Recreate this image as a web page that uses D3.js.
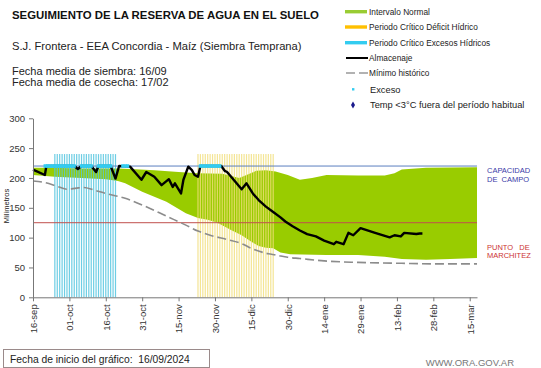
<!DOCTYPE html>
<html><head><meta charset="utf-8">
<script src="https://cdn.jsdelivr.net/npm/d3@7"></script>
<style>
html,body{margin:0;padding:0;background:#fff;}
svg{display:block;font-family:"Liberation Sans",Arial,sans-serif;}
</style></head>
<body><svg id="c" width="541" height="368"></svg>
<script>
// ---- data (day offset from 16-sep-2024) ----
const tickDays = [0,15,30,45,60,75,90,105,120,135,150,165,180];
const tickLabels = ["16-sep","01-oct","16-oct","31-oct","15-nov","30-nov","15-dic","30-dic","14-ene","29-ene","13-feb","28-feb","15-mar"];
const yTicks = [0,50,100,150,200,250,300];
const capacidadCampo = 220;
const puntoMarchitez = 125;
const normalUpper = [[0,217],[8,217],[20,216],[35,216],[40,215],[50,213],[60,210],[68,208],[78,207],[83,202],[85,200],[88,205],[92,212],[96,213],[100,211],[105,205],[110,197],[115,200],[121,205],[134,204],[145,204],[149,208],[152,214],[162,217],[183,218]];
const normalLower = [[0,205],[9,202],[20,200],[30,198],[35,195],[38,191],[45,177],[55,160],[63,141],[68,133],[72,130],[76,125],[82,112],[86,104],[90,93],[93,86],[96,83],[99,82],[102,75],[106,72],[121,71],[134,71],[145,68],[152,64],[162,63],[172,64],[183,66]];
const minimoHistorico = [[0,195],[4,193],[10,186],[14,181],[18,183],[21,184],[25,180],[30,174],[38,166],[46,153],[55,136],[63,121],[68,111],[73,104],[80,97],[86,90],[90,82],[97,73],[100,71],[105,67],[110,65],[120,61],[134,58.5],[152,57],[168,56],[183,56]];
const almacenaje = [[0,214],[4.9,205],[5.5,220],[17,220],[18.5,215],[20,220],[24,220],[26,210],[27,220],[32,220],[34,199],[35.5,220],[40,219],[44.7,197],[46.7,210],[50,202],[53,188],[56,198],[57.6,185],[58.5,191],[61,174],[62,197],[64,219],[65.5,213],[66.6,205],[68,202],[69,220],[77.6,220],[79,212],[80,210],[86,181],[88,191],[90.6,174],[93,163],[96,152],[99,143],[102,134],[104,127],[107,119],[110,112],[113,106],[116.6,102],[120,95],[124,89],[125,93],[128,89],[130,108],[132,104],[135,116],[141,108],[147,100.5],[149,104],[151.6,102],[153,108],[158,106],[159.4,107],[160.5,107]];
const excesoDays = [5,6,7,8,9,10,11,12,13,14,15,16,17,20,21,22,23,24,27,28,29,30,31,32,37,38,39,69,70,71,72,73,74,75,76,77];
const excesosHidricosDays = [9,10,11,12,13,14,15,16,17,18,19,20,21,22,23,24,25,26,27,28,29,30,31,32,33,34];
const deficitHidricoDays = [68,69,70,71,72,73,74,75,76,77,78,79,80,81,82,83,84,85,86,87,88,89,90,91,92,93,94,95,96,97,98,99];
const periodoTop = 240;
const legendItems = ["Intervalo Normal","Periodo Crítico Déficit Hídrico","Periodo Crítico Excesos Hídricos","Almacenaje","Mínimo histórico","Exceso","Temp <3°C fuera del período habitual"];

// ---- chart ----
const svg = d3.select("#c");
const x = d3.scaleLinear().domain([0,183]).range([33,477]);
const y = d3.scaleLinear().domain([0,300]).range([297.3,118.3]);

// texts
svg.append("text").attr("x",12).attr("y",19).attr("font-size",11.4).attr("font-weight","bold").attr("fill","#111")
  .text("SEGUIMIENTO DE LA RESERVA DE AGUA EN EL SUELO");
svg.append("text").attr("x",12).attr("y",49.5).attr("font-size",11.2).attr("fill","#222")
  .text("S.J. Frontera - EEA Concordia - Maíz (Siembra Temprana)");
svg.append("text").attr("x",12).attr("y",75).attr("font-size",11).attr("fill","#222").text("Fecha media de siembra: 16/09");
svg.append("text").attr("x",12).attr("y",86).attr("font-size",11).attr("fill","#222").text("Fecha media de cosecha: 17/02");

// green band
const bandPts = normalUpper.concat(normalLower.slice().reverse());
svg.append("path").attr("d", d3.line().x(d=>x(d[0])).y(d=>y(d[1]))(bandPts)+"Z").attr("fill","#99cc00");

// critical period stripes
svg.append("g").selectAll("line").data(excesosHidricosDays).join("line")
  .attr("x1",d=>x(d)).attr("x2",d=>x(d)).attr("y1",y(0)).attr("y2",y(periodoTop))
  .attr("stroke","#55c6e0").attr("stroke-width",1.2).attr("opacity",0.85);
svg.append("g").selectAll("line").data(deficitHidricoDays).join("line")
  .attr("x1",d=>x(d)).attr("x2",d=>x(d)).attr("y1",y(0)).attr("y2",y(periodoTop))
  .attr("stroke","#f2df7a").attr("stroke-width",1.2).attr("opacity",0.8);

// reference lines
svg.append("line").attr("x1",x(0)).attr("x2",x(183)).attr("y1",y(capacidadCampo)).attr("y2",y(capacidadCampo))
  .attr("stroke","#5b7fbf").attr("stroke-width",1);
svg.append("line").attr("x1",x(0)).attr("x2",x(183)).attr("y1",y(puntoMarchitez)).attr("y2",y(puntoMarchitez))
  .attr("stroke","#c0504d").attr("stroke-width",1);

// minimo historico
svg.append("path").attr("d", d3.line().x(d=>x(d[0])).y(d=>y(d[1])).curve(d3.curveMonotoneX)(minimoHistorico))
  .attr("fill","none").attr("stroke","#8c8c8c").attr("stroke-width",1.6).attr("stroke-dasharray","9,4");

// almacenaje
svg.append("path").attr("d", d3.line().x(d=>x(d[0])).y(d=>y(d[1]))(almacenaje))
  .attr("fill","none").attr("stroke","#000").attr("stroke-width",2.4).attr("stroke-linejoin","round");

// exceso markers
svg.append("g").selectAll("rect").data(excesoDays).join("rect")
  .attr("x",d=>x(d)-1.6).attr("y",y(capacidadCampo)-1.8).attr("width",3.2).attr("height",3.6).attr("fill","#33ccf0");

// axes
const gx = svg.append("g").attr("transform",`translate(0,${y(0)})`)
  .call(d3.axisBottom(x).tickValues(tickDays).tickFormat((d,i)=>tickLabels[i]).tickSize(4).tickSizeOuter(0));
gx.select(".domain").attr("stroke","#777");
gx.selectAll(".tick line").attr("stroke","#777");
gx.selectAll("text").attr("font-size",9.5).attr("font-family","Liberation Sans, Arial, sans-serif").attr("fill","#333")
  .attr("transform","rotate(-90)").attr("text-anchor","end").attr("x",-7).attr("y",0).attr("dy","0.35em");

const gy = svg.append("g").attr("transform",`translate(${x(0)},0)`)
  .call(d3.axisLeft(y).tickValues(yTicks).tickSize(4).tickPadding(4).tickSizeOuter(0));
gy.select(".domain").attr("stroke","#777");
gy.selectAll(".tick line").attr("stroke","#777");
gy.selectAll("text").attr("font-size",9.5).attr("font-family","Liberation Sans, Arial, sans-serif").attr("fill","#333");

svg.append("text").attr("transform","translate(8.5,206) rotate(-90)").attr("text-anchor","middle")
  .attr("font-size",7.5).attr("fill","#222").text("Milímetros");

// right labels
const rl = svg.append("g").attr("font-size",7.5);
rl.append("text").attr("x",487).attr("y",173.3).attr("fill","#3a3aa8").text("CAPACIDAD");
rl.append("text").attr("x",487).attr("y",181.7).attr("fill","#3a3aa8").text("DE\u00a0\u00a0CAMPO");
rl.append("text").attr("x",487).attr("y",250).attr("fill","#cc3333").text("PUNTO\u00a0\u00a0\u00a0DE");
rl.append("text").attr("x",487).attr("y",258.3).attr("fill","#cc3333").text("MARCHITEZ");

// legend
const lg = svg.append("g");
const ly = [11.7,27,42.7,58,73,89.3,105];
lg.append("rect").attr("x",345).attr("y",ly[0]-1.7).attr("width",22).attr("height",3.4).attr("fill","#99cc33");
lg.append("rect").attr("x",345).attr("y",ly[1]-1.7).attr("width",22).attr("height",3.4).attr("fill","#ffc000");
lg.append("rect").attr("x",345).attr("y",ly[2]-1.7).attr("width",22).attr("height",3.4).attr("fill","#33ccf0");
lg.append("line").attr("x1",346).attr("x2",368).attr("y1",ly[3]).attr("y2",ly[3]).attr("stroke","#000").attr("stroke-width",2);
lg.append("line").attr("x1",346).attr("x2",368).attr("y1",ly[4]).attr("y2",ly[4]).attr("stroke","#999").attr("stroke-width",1.6).attr("stroke-dasharray","9,4");
lg.append("rect").attr("x",352).attr("y",ly[5]-1.2).attr("width",2.4).attr("height",2.4).attr("fill","#33ccf0");
lg.append("path").attr("d",d3.symbol(d3.symbolDiamond,14)()).attr("transform",`translate(353,${ly[6]})`).attr("fill","#1a1a8c");
legendItems.forEach((t,i)=>{
  lg.append("text").attr("x", i>=5 ? 370 : 369).attr("y",ly[i]).attr("dy","0.35em")
    .attr("font-size", i>=5 ? 9.3 : 8.3).attr("fill","#222").text(t);
});

// footer
svg.append("rect").attr("x",3.5).attr("y",349.5).attr("width",206).attr("height",18).attr("fill","#fff").attr("stroke","#9a8a8a");
svg.append("text").attr("x",10).attr("y",362.5).attr("font-size",10.3).attr("fill","#222")
  .text("Fecha de inicio del gráfico:\u00a0\u00a016/09/2024");
svg.append("text").attr("x",514).attr("y",366).attr("text-anchor","end").attr("font-size",9.5).attr("fill","#777")
  .text("WWW.ORA.GOV.AR");
</script></body></html>
